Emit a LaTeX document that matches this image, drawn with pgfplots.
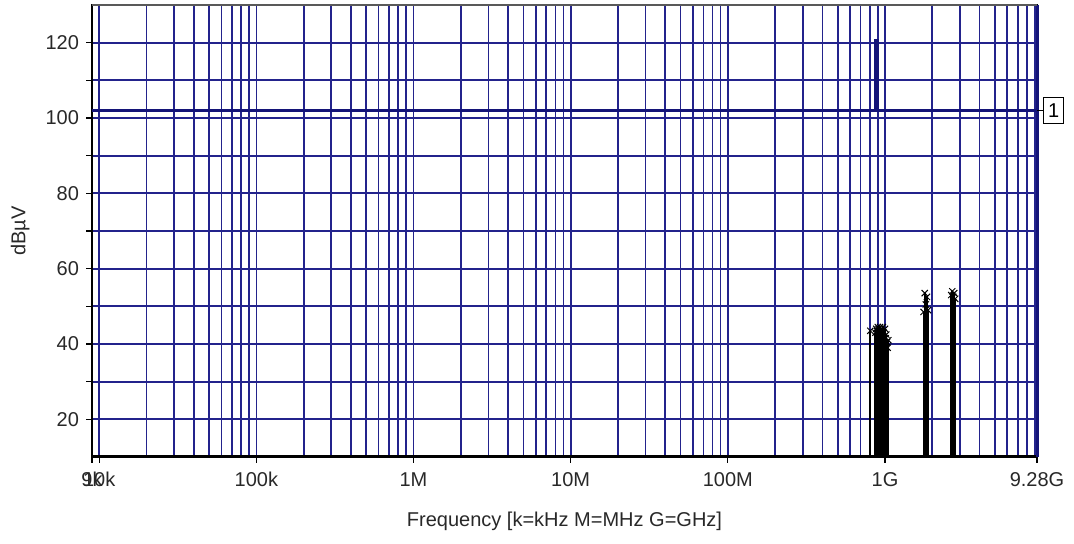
\documentclass[border=0pt]{standalone}
\usepackage{fontspec}
\setmainfont{Liberation Sans}
\usepackage{pgfplots}
\pgfplotsset{compat=1.18}
\definecolor{gridnavy}{RGB}{35,35,140}
\definecolor{tracenavy}{RGB}{20,20,120}
\definecolor{labelgray}{RGB}{40,40,40}

\begin{document}
\begin{tikzpicture}
\begin{axis}[
  at={(0,0)}, anchor=south west,
  scale only axis, width=472.5pt, height=226pt,
  clip mode=individual,
  xmode=log, xmin=9000, xmax=9.28e9,
  ymin=10, ymax=130,
  xtick={9000,10000,1e5,1e6,1e7,1e8,1e9,9.28e9},
  xticklabels={9k,10k,100k,1M,10M,100M,1G,9.28G},
  minor xtick={2e4,3e4,4e4,5e4,6e4,7e4,8e4,9e4,
               2e5,3e5,4e5,5e5,6e5,7e5,8e5,9e5,
               2e6,3e6,4e6,5e6,6e6,7e6,8e6,9e6,
               2e7,3e7,4e7,5e7,6e7,7e7,8e7,9e7,
               2e8,3e8,4e8,5e8,6e8,7e8,8e8,9e8,
               2e9,3e9,4e9,5e9,6e9,7e9,8e9,9e9},
  ytick={20,30,40,50,60,70,80,90,100,110,120},
  yticklabels={20,,40,,60,,80,,100,,120},
  xmajorgrids, xminorgrids, ymajorgrids,
  major grid style={gridnavy, line width=0.85pt},
  minor grid style={gridnavy, line width=0.85pt},
  tick align=outside, major tick length=3pt, minor tick length=0pt,
  tick style={black, line width=0.6pt},
  xtick pos=bottom, ytick pos=left,
  axis line style={black, line width=0.6pt},
  ticklabel style={font=\fontsize{10}{12}\selectfont, text=labelgray},
  xticklabel style={text height=1.6ex, text depth=0.3ex},
  xlabel={Frequency [k=kHz M=MHz G=GHz]},
  ylabel={dBµV},
  label style={font=\fontsize{10}{12}\selectfont, text=labelgray},
  xlabel style={at={(axis description cs:0.5,0)}, anchor=center, yshift=-32pt},
  ylabel style={at={(axis description cs:-0.076,0.5)}, anchor=center},
]
% limit line 1
\addplot[tracenavy, line width=1.5pt] coordinates {(9000,102) (9.28e9,102)};
% carrier spike on trace 1
\addplot[tracenavy, line width=2.2pt] coordinates {(8.85e8,102) (8.85e8,121)};
% peaks
\addplot[ycomb, black, line width=1pt, mark=x, mark size=2.2pt,
  mark options={line width=0.5pt}] coordinates {
  (8.07e8,43.5)
  (8.70e8,43.0) (8.80e8,44.0) (8.90e8,43.5) (9.00e8,44.5) (9.10e8,44.0)
  (9.20e8,43.5) (9.30e8,44.5) (9.40e8,43.0) (9.50e8,44.0) (9.60e8,43.5)
  (9.70e8,44.5) (9.80e8,43.0) (9.90e8,42.0) (1.00e9,44.0) (1.01e9,41.5)
  (1.02e9,42.5) (1.03e9,40.5) (1.04e9,39.0) (1.05e9,41.0)
  (1.76e9,48.5) (1.79e9,53.5) (1.82e9,50.5) (1.85e9,52.5) (1.88e9,49.0)
  (2.64e9,53.0) (2.68e9,54.0) (2.72e9,52.5) (2.76e9,53.5) (2.80e9,52.0)};
\draw[black, line width=1.5pt] (rel axis cs:0,0) -- (rel axis cs:1,0);
\draw[tracenavy, line width=1.5pt] (rel axis cs:1,0) -- (rel axis cs:1,1);
\draw[gray!70!black, line width=0.6pt] (rel axis cs:0,1) -- (rel axis cs:1,1);
\node[draw, anchor=west, xshift=3pt, inner xsep=2.2pt, inner ysep=3.2pt,
      line width=0.6pt, font=\fontsize{10}{12}\selectfont]
      (lim) at (axis cs:9.28e9,102) {1};
\draw[black, line width=0.5pt] (axis cs:9.28e9,102) -- (lim.west);
\end{axis}
\pgfresetboundingbox
\path (-46pt,-43.5pt) rectangle (491pt,228.5pt);
\end{tikzpicture}
\end{document}
